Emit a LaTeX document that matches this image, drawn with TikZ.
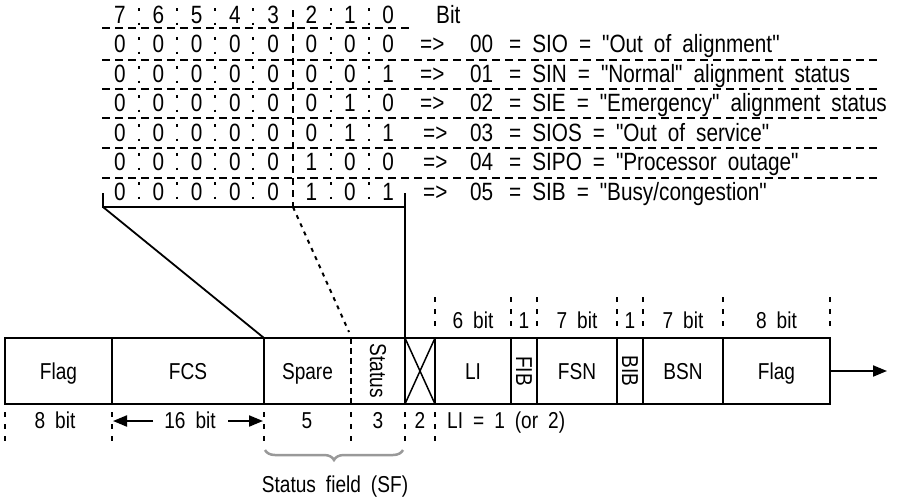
\documentclass[tikz,border=0pt]{standalone}
\usepackage{fontspec}
\setmainfont{Liberation Sans}[FakeStretch=0.83, Ligatures=TeXOff]
\usetikzlibrary{arrows.meta,decorations.pathreplacing}
\newcommand\myfont{\fontsize{23}{27}\selectfont\spaceskip=10pt\relax}
\newcommand\tabfont{\fontsize{25}{29}\selectfont\spaceskip=11pt\relax}
\begin{document}
\begin{tikzpicture}[x=1pt,y=-1pt,
  txt/.style={font=\myfont, inner sep=0pt, anchor=base},
  txtw/.style={font=\myfont, inner sep=0pt, anchor=base west},
  ttxt/.style={font=\tabfont, inner sep=0pt, anchor=base},
  ttxtw/.style={font=\tabfont, inner sep=0pt, anchor=base west},
  frame/.style={line width=2.2pt},
  cellline/.style={line width=2pt},
  hdash/.style={line width=1.5pt, dash pattern=on 8pt off 5pt},
  vdot/.style={line width=1.8pt, dash pattern=on 2.5pt off 12pt},
  vdash/.style={line width=1.8pt, dash pattern=on 7pt off 5pt},
  tickmark/.style={line width=1.8pt, dash pattern=on 5pt off 7pt},
  solidline/.style={line width=1.8pt},
  arr/.style={line width=2pt, -{Triangle[length=14pt,width=11pt]}},
  bracestyle/.style={decorate, decoration={brace, mirror, amplitude=10pt}, line width=2.5pt, draw=black!40}
]
\useasboundingbox (0,0) rectangle (903,496);

% ---------- bit table ----------
\foreach \d [count=\i from 0] in {7,6,5,4,3,2,1,0}
  \node[ttxt] (h\i) at (120+38.3*\i, 23) {\d};
\node[ttxtw] (bit) at (436,23) {Bit};

\foreach \r/\bits/\num/\rest/\ax in {
  1/{0,0,0,0,0,0,0,0}/00/{= SIO = "Out of alignment"}/420,
  2/{0,0,0,0,0,0,0,1}/01/{= SIN = "Normal" alignment status}/420,
  3/{0,0,0,0,0,0,1,0}/02/{= SIE = "Emergency" alignment status}/420,
  4/{0,0,0,0,0,0,1,1}/03/{= SIOS = "Out of service"}/423,
  5/{0,0,0,0,0,1,0,0}/04/{= SIPO = "Processor outage"}/423,
  6/{0,0,0,0,0,1,0,1}/05/{= SIB = "Busy/congestion"}/423}{
  \foreach \b [count=\i from 0] in \bits
    \node[ttxt] (r\r b\i) at (120+38.3*\i, 23+29.5*\r) {\b};
  \node[ttxtw] (arrow\r) at (\ax, 23+29.5*\r) {=>};
  \node[ttxtw] (num\r) at (470, 23+29.5*\r) {\num};
  \node[ttxtw] (desc\r) at (509, 23+29.5*\r) {\rest};
}

% horizontal dashed lines
\coordinate (t0l) at (102,28); \coordinate (t0r) at (410,28);
\draw[hdash] (t0l) -- (t0r);
\foreach \y [count=\k] in {60,89,118,148,178}{
  \coordinate (tl\k) at (102,\y); \coordinate (tr\k) at (878,\y);
  \draw[hdash] (tl\k) -- (tr\k);
}
% vertical separators
\foreach \x [count=\k] in {139,177,215,253,331,369}{
  \coordinate (vt\k) at (\x,8); \coordinate (vb\k) at (\x,202);
  \draw[vdot] (vt\k) -- (vb\k);
}
\coordinate (sepT) at (293,10); \coordinate (sepB) at (293,207);
\draw[vdash] (sepT) -- (sepB);

% bracket
\coordinate (bl) at (103,193); \coordinate (blc) at (103,207);
\coordinate (brc) at (405,207); \coordinate (br) at (405,193);
\draw[solidline] (bl) -- (blc) -- (brc);

% ---------- frame ----------
\coordinate (A) at (5,338);   \coordinate (Ab) at (5,404);
\coordinate (B) at (112,338); \coordinate (Bb) at (112,404);
\coordinate (C) at (264,338); \coordinate (Cb) at (264,404);
\coordinate (D) at (351,338); \coordinate (Db) at (351,404);
\coordinate (E) at (405,338); \coordinate (Eb) at (405,404);
\coordinate (F) at (435,338); \coordinate (Fb) at (435,404);
\coordinate (G) at (511,338); \coordinate (Gb) at (511,404);
\coordinate (H) at (537,338); \coordinate (Hb) at (537,404);
\coordinate (I) at (617,338); \coordinate (Ib) at (617,404);
\coordinate (J) at (643,338); \coordinate (Jb) at (643,404);
\coordinate (K) at (723,338); \coordinate (Kb) at (723,404);
\coordinate (L) at (830,338); \coordinate (Lb) at (830,404);

\draw[solidline] (br) -- (E);
\draw[solidline] (blc) -- (C);
\draw[line width=2pt, dash pattern=on 4pt off 5pt] (sepB) -- (349,332);

\draw[frame] (A) -- (L) -- (Lb) -- (Ab) -- cycle;
\foreach \p/\q in {B/Bb,C/Cb,E/Eb,F/Fb,G/Gb,H/Hb,I/Ib,J/Jb,K/Kb}
  \draw[cellline] (\p) -- (\q);
\draw[line width=1.3pt, dash pattern=on 6pt off 4pt] (D) -- (Db);
\draw[line width=1.5pt] (E) -- (Fb) (F) -- (Eb);

\node[txt] (flagA) at (58.5,379) {Flag};
\node[txt] (fcs) at (188,379) {FCS};
\node[txt] (spare) at (307.5,379) {Spare};
\node[font=\myfont, inner sep=0pt, rotate=-90] (status) at (378,371) {Status};
\node[txt] (li) at (473,379) {LI};
\node[font=\myfont, inner sep=0pt, rotate=-90] (fib) at (524,371) {FIB};
\node[txt] (fsn) at (577,379) {FSN};
\node[font=\myfont, inner sep=0pt, rotate=-90] (bib) at (630,371) {BIB};
\node[txt] (bsn) at (683,379) {BSN};
\node[txt] (flagB) at (776.5,379) {Flag};

\coordinate (arrEnd) at (887,371);
\draw[arr] (830,371) -- (arrEnd);

% ticks above
\foreach \x [count=\k] in {435,511,537,617,643,723,830}{
  \coordinate (ut\k) at (\x,297); \coordinate (ub\k) at (\x,329);
  \draw[tickmark] (ut\k) -- (ub\k);
}
\node[txt] (l6) at (473,328) {6 bit};
\node[txt] (l1a) at (524,328) {1};
\node[txt] (l7a) at (577,328) {7 bit};
\node[txt] (l1b) at (630,328) {1};
\node[txt] (l7b) at (683,328) {7 bit};
\node[txt] (l8) at (776.5,328) {8 bit};

% ticks below
\foreach \x [count=\k] in {5,112,264,351,405,435}{
  \coordinate (dt\k) at (\x,412); \coordinate (db\k) at (\x,444);
  \draw[tickmark] (dt\k) -- (db\k);
}
\node[txt] (b8) at (55,428) {8 bit};
\node[txt] (b16) at (190,428) {16 bit};
\coordinate (a16l) at (113,421); \coordinate (a16lt) at (153,421);
\coordinate (a16r) at (263,421); \coordinate (a16rt) at (228,421);
\draw[arr] (a16lt) -- (a16l);
\draw[arr] (a16rt) -- (a16r);
\node[txt] (b5) at (307,428) {5};
\node[txt] (b3) at (378,428) {3};
\node[txt] (b2) at (420,428) {2};
\node[txtw] (lieq) at (447,428) {LI = 1 (or 2)};

\coordinate (brL) at (265,450); \coordinate (brR) at (403,450);
\draw[bracestyle] (brL) -- (brR);
\node[txt] (sf) at (335,492) {Status field (SF)};
\end{tikzpicture}
\end{document}
